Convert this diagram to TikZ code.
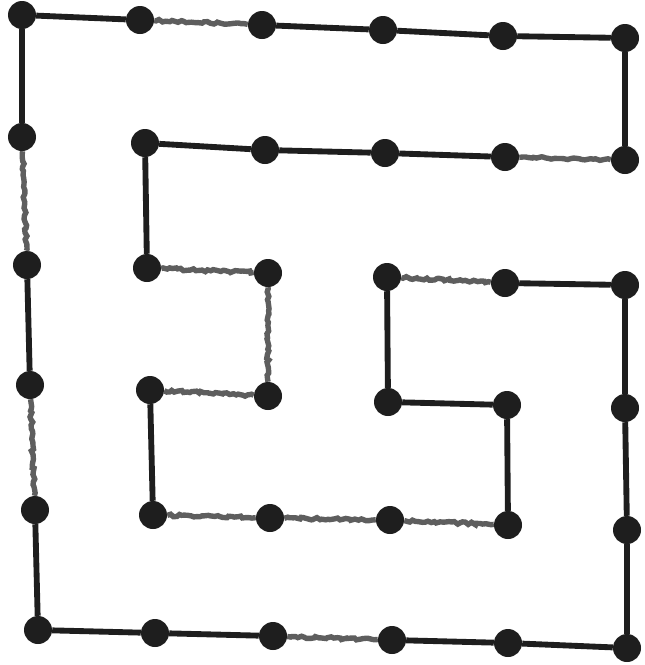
\documentclass[tikz,border=0pt]{standalone}
\usepackage{tikz}
\usepackage{xcolor}
\usetikzlibrary{decorations.pathmorphing}
\definecolor{Ink}{HTML}{1E1E1E}
\definecolor{Smudge}{HTML}{5E5E5E}

\begin{document}
\begin{tikzpicture}[
  x=0.03cm, y=-0.03cm,
  dot/.style={circle,fill=Ink,draw=none,minimum size=0.84cm,inner sep=0pt},
  solidedge/.style={draw=Ink,line width=5pt},
  faintedge/.style={draw=Smudge,line width=4.6pt,decorate,decoration={random steps,segment length=2.5pt,amplitude=1.1pt}}
]
\useasboundingbox (0,0) rectangle (645,665);
% grid of dots, named d<col><row>
\foreach \nm/\px/\py in {00/22/15, 10/140/20, 20/262/25, 30/383/30, 40/503/36, 50/625/38,
  01/22/137, 11/145/143, 21/265/150, 31/385/153, 41/505/157, 51/625/160,
  02/27/265, 12/147/268, 22/268/273, 32/387/277, 42/505/283, 52/625/285,
  03/30/385, 13/150/390, 23/268/396, 33/388/402, 43/507/405, 53/625/408,
  04/35/510, 14/153/515, 24/270/518, 34/390/520, 44/508/525, 54/627/530,
  05/38/630, 15/155/633, 25/273/636, 35/392/640, 45/508/643, 55/627/648}
  \node[dot] (d\nm) at (\px,\py) {};
% solid edges
\draw[solidedge] (d00) -- (d10);
\draw[solidedge] (d20) -- (d30) -- (d40) -- (d50) -- (d51);
\draw[solidedge] (d41) -- (d31) -- (d21) -- (d11) -- (d12);
\draw[solidedge] (d13) -- (d14);
\draw[solidedge] (d44) -- (d43) -- (d33) -- (d32);
\draw[solidedge] (d42) -- (d52) -- (d53) -- (d54) -- (d55) -- (d45) -- (d35);
\draw[solidedge] (d25) -- (d15) -- (d05) -- (d04);
\draw[solidedge] (d03) -- (d02);
\draw[solidedge] (d01) -- (d00);
% faint edges
\draw[faintedge] (d10) -- (d20);
\draw[faintedge] (d51) -- (d41);
\draw[faintedge] (d12) -- (d22);
\draw[faintedge] (d22) -- (d23);
\draw[faintedge] (d23) -- (d13);
\draw[faintedge] (d14) -- (d24);
\draw[faintedge] (d24) -- (d34);
\draw[faintedge] (d34) -- (d44);
\draw[faintedge] (d32) -- (d42);
\draw[faintedge] (d35) -- (d25);
\draw[faintedge] (d04) -- (d03);
\draw[faintedge] (d02) -- (d01);
\end{tikzpicture}
\end{document}
